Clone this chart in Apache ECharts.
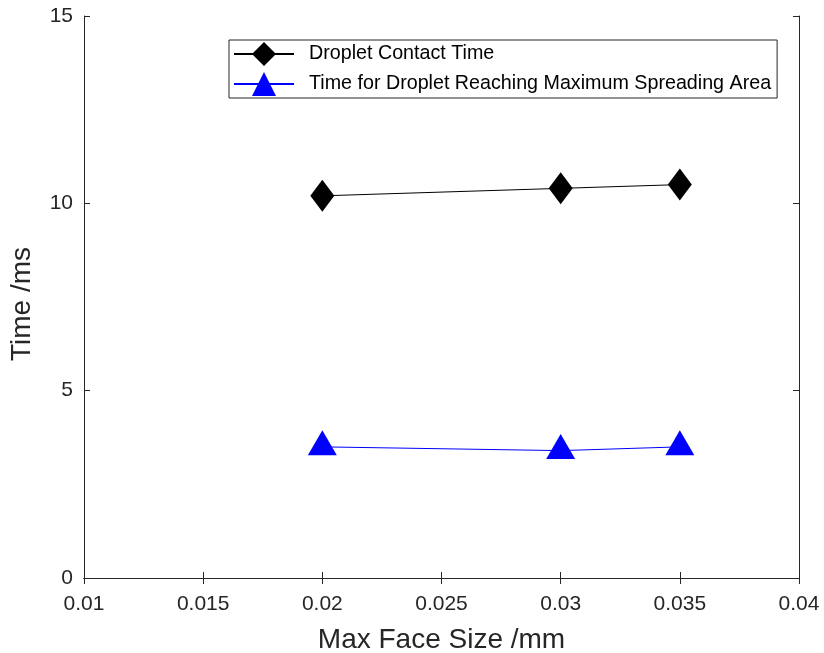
<!DOCTYPE html>
<html>
<head>
<meta charset="utf-8">
<script src="https://cdn.jsdelivr.net/npm/echarts@6/dist/echarts.min.js"></script>
<style>
  html, body { margin: 0; padding: 0; background: #fff; }
  #chart { width: 824px; height: 653px; }
</style>
</head>
<body>
<div id="chart"></div>
<script>
// Max face size of the mesh (mm)
const faceSizes = [0.02, 0.03, 0.035];
// Droplet contact time (ms)
const contactTime = [10.2, 10.4, 10.5];
// Time for droplet to reach its maximum spreading area (ms)
const spreadTime = [3.5, 3.4, 3.5];

const seriesNames = ['Droplet Contact Time', 'Time for Droplet Reaching Maximum Spreading Area'];

const FONT = 'Liberation Sans, Arial, Helvetica, sans-serif';
const AXIS_COLOR = '#262626';

const pair = (xs, ys) => xs.map((x, i) => [x, ys[i]]);
const fmtX = v => String(parseFloat((+v).toFixed(4)));

const chart = echarts.init(document.getElementById('chart'), null, { renderer: 'canvas' });

const commonAxisLine = { show: true, lineStyle: { color: AXIS_COLOR, width: 1 } };
const commonTick = { show: true, inside: true, length: 6, lineStyle: { color: AXIS_COLOR, width: 1 } };

chart.setOption({
  backgroundColor: '#ffffff',
  animation: false,
  grid: { left: 84, top: 16, right: 25, bottom: 75, containLabel: false, outerBoundsMode: 'none' },
  legend: {
    orient: 'vertical',
    left: 229,
    top: 40,
    itemWidth: 60,
    itemHeight: 30,
    itemGap: 4,
    padding: [1, 6, 1, 4],
    backgroundColor: '#ffffff',
    borderColor: '#262626',
    borderWidth: 1,
    textStyle: { fontFamily: FONT, fontSize: 19.7, lineHeight: 26, color: '#000000', padding: [0, 0, 0, 10] },
    data: seriesNames
  },
  xAxis: [
    {
      type: 'value',
      min: 0.01, max: 0.04, interval: 0.005,
      name: 'Max Face Size /mm',
      nameLocation: 'middle',
      nameGap: 48,
      nameTextStyle: { fontFamily: FONT, fontSize: 28, color: AXIS_COLOR },
      axisLine: commonAxisLine,
      axisTick: commonTick,
      axisLabel: { fontFamily: FONT, fontSize: 21, color: AXIS_COLOR, margin: 16, formatter: fmtX },
      splitLine: { show: false }
    },
    {
      type: 'value', position: 'top',
      min: 0.01, max: 0.04, interval: 0.005,
      axisLine: commonAxisLine,
      axisTick: commonTick,
      axisLabel: { show: false },
      splitLine: { show: false }
    }
  ],
  yAxis: [
    {
      type: 'value',
      min: 0, max: 15, interval: 5,
      name: 'Time /ms',
      nameLocation: 'middle',
      nameGap: 48,
      nameTextStyle: { fontFamily: FONT, fontSize: 28, color: AXIS_COLOR, padding: [0, 14, 0, 0] },
      axisLine: commonAxisLine,
      axisTick: commonTick,
      axisLabel: { fontFamily: FONT, fontSize: 21, color: AXIS_COLOR, margin: 11 },
      splitLine: { show: false }
    },
    {
      type: 'value', position: 'right',
      min: 0, max: 15, interval: 5,
      axisLine: commonAxisLine,
      axisTick: commonTick,
      axisLabel: { show: false },
      splitLine: { show: false }
    }
  ],
  series: [
    {
      name: seriesNames[0],
      type: 'line',
      data: pair(faceSizes, contactTime),
      symbol: 'diamond',
      symbolSize: [24, 32],
      showAllSymbol: true,
      itemStyle: { color: '#000000' },
      lineStyle: { color: '#000000', width: 1 },
      z: 3
    },
    {
      name: seriesNames[1],
      type: 'line',
      data: pair(faceSizes, spreadTime),
      symbol: 'triangle',
      symbolSize: [29, 25],
      symbolOffset: [0, -4],
      showAllSymbol: true,
      itemStyle: { color: '#0000ff' },
      lineStyle: { color: '#0000ff', width: 1 },
      z: 3
    }
  ]
});
</script>
</body>
</html>
